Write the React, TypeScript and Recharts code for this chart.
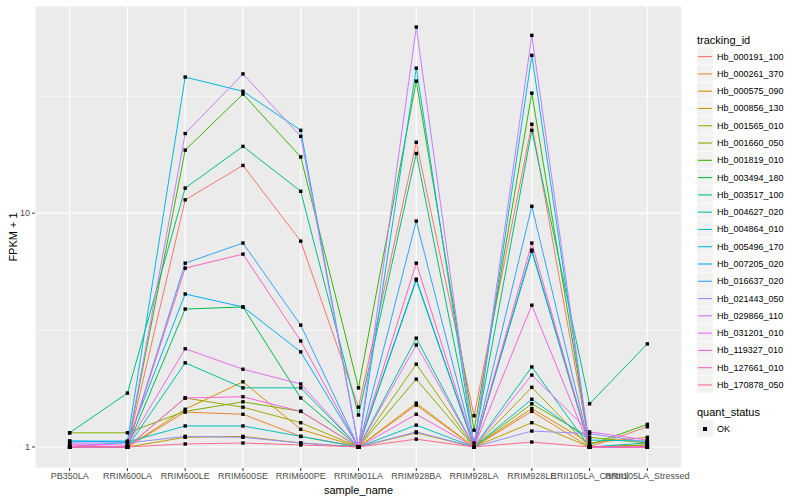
import { LineChart, Line, XAxis, YAxis, CartesianGrid, ReferenceLine, Label } from "recharts";

const sampleNames = [
  "PB350LA",
  "RRIM600LA",
  "RRIM600LE",
  "RRIM600SE",
  "RRIM600PE",
  "RRIM901LA",
  "RRIM928BA",
  "RRIM928LA",
  "RRIM928LE",
  "RRII105LA_Control",
  "RRII105LA_Stressed",
];

const trackingIds = [
  "Hb_000191_100",
  "Hb_000261_370",
  "Hb_000575_090",
  "Hb_000856_130",
  "Hb_001565_010",
  "Hb_001660_050",
  "Hb_001819_010",
  "Hb_003494_180",
  "Hb_003517_100",
  "Hb_004627_020",
  "Hb_004864_010",
  "Hb_005496_170",
  "Hb_007205_020",
  "Hb_016637_020",
  "Hb_021443_050",
  "Hb_029866_110",
  "Hb_031201_010",
  "Hb_119327_010",
  "Hb_127661_010",
  "Hb_170878_050",
];

const trackingColors = [
  "#F8766D", "#EA8331", "#D89000", "#C09B00", "#A3A500",
  "#7CAE00", "#39B600", "#00BB4E", "#00BF7D", "#00C1A3",
  "#00BFC4", "#00BAE0", "#00B0F6", "#35A2FF", "#9590FF",
  "#C77CFF", "#E76BF3", "#FA62DB", "#FF62BC", "#FF6C91",
];

// FPKM + 1, one value per sample_name
const hb_000191_100 = [1.0, 1.0, 11.4, 16.0, 7.59, 1.48, 20.1, 1.36, 24.0, 1.0, 1.22];
const hb_000261_370 = [1.0, 1.0, 1.41, 1.38, 1.11, 1.0, 1.51, 1.0, 1.42, 1.0, 1.02];
const hb_000575_090 = [1.0, 1.0, 1.45, 1.9, 1.19, 1.0, 1.54, 1.0, 1.46, 1.04, 1.1];
const hb_000856_130 = [1.0, 1.0, 1.1, 1.11, 1.04, 1.0, 1.15, 1.0, 1.27, 1.0, 1.0];
const hb_001565_010 = [1.0, 1.0, 1.62, 1.48, 1.27, 1.0, 2.26, 1.0, 1.8, 1.0, 1.02];
const hb_001660_050 = [1.15, 1.15, 1.42, 1.56, 1.42, 1.0, 1.95, 1.0, 1.53, 1.1, 1.04];
const hb_001819_010 = [1.0, 1.0, 18.6, 32.3, 17.4, 1.79, 36.7, 1.18, 32.6, 1.02, 1.25];
const hb_003494_180 = [1.0, 1.0, 3.89, 3.97, 1.62, 1.0, 5.17, 1.0, 6.88, 1.0, 1.0];
const hb_003517_100 = [1.15, 1.7, 12.8, 19.3, 12.4, 1.37, 18.0, 1.04, 22.6, 1.53, 2.76];
const hb_004627_020 = [1.0, 1.0, 2.29, 1.79, 1.79, 1.0, 2.92, 1.0, 2.2, 1.0, 1.04];
const hb_004864_010 = [1.0, 1.05, 1.23, 1.23, 1.11, 1.0, 1.24, 1.0, 1.6, 1.07, 1.06];
const hb_005496_170 = [1.06, 1.06, 38.2, 33.2, 22.6, 1.0, 41.7, 1.0, 47.3, 1.0, 1.0];
const hb_007205_020 = [1.06, 1.05, 4.51, 3.97, 2.55, 1.0, 5.22, 1.0, 6.95, 1.0, 1.0];
const hb_016637_020 = [1.0, 1.0, 6.11, 7.45, 3.32, 1.0, 9.25, 1.0, 10.7, 1.0, 1.0];
const hb_021443_050 = [1.04, 1.04, 1.11, 1.1, 1.04, 1.0, 1.16, 1.0, 1.17, 1.14, 1.05];
const hb_029866_110 = [1.0, 1.0, 21.9, 39.4, 21.3, 1.0, 62.5, 1.0, 57.6, 1.0, 1.0];
const hb_031201_010 = [1.03, 1.02, 2.63, 2.15, 1.86, 1.0, 2.73, 1.0, 2.03, 1.16, 1.07];
const hb_119327_010 = [1.02, 1.0, 1.62, 1.64, 1.42, 1.0, 1.38, 1.0, 4.04, 1.0, 1.0];
const hb_127661_010 = [1.0, 1.0, 5.82, 6.68, 2.84, 1.0, 6.11, 1.0, 7.45, 1.0, 1.0];
const hb_170878_050 = [1.0, 1.0, 1.03, 1.04, 1.02, 1.0, 1.08, 1.0, 1.05, 1.0, 1.0];

const seriesValues = [
  hb_000191_100, hb_000261_370, hb_000575_090, hb_000856_130, hb_001565_010,
  hb_001660_050, hb_001819_010, hb_003494_180, hb_003517_100, hb_004627_020,
  hb_004864_010, hb_005496_170, hb_007205_020, hb_016637_020, hb_021443_050,
  hb_029866_110, hb_031201_010, hb_119327_010, hb_127661_010, hb_170878_050,
];

const yTicks = [1, 10];
const yMinor = [3.162, 31.62];
const xTicks = sampleNames.map((_, i) => i + 1);

const data = sampleNames.map((name, i) => {
  const row: Record<string, number | string> = { x: i + 1, sample_name: name };
  trackingIds.forEach((id, k) => {
    row[id] = seriesValues[k][i];
  });
  return row;
});

const FONT = "'Liberation Sans', Arial, Helvetica, sans-serif";

const SquareDot = (props: any) => {
  const { cx, cy, index, dataKey } = props;
  if (cx == null || cy == null) return null;
  return (
    <rect key={`${dataKey}-${index}`} x={cx - 1.7} y={cy - 1.7} width={3.4} height={3.4} fill="#000" />
  );
};

const KEY_H = 17.28;

function LegendBox() {
  const top = 48;
  const quantTitleY = 412;
  const okTop = 429 - KEY_H / 2;
  return (
    <svg
      width={110}
      height={460}
      style={{ position: "absolute", left: 690, top: 0, fontFamily: FONT }}
    >
      <text x={7} y={40} fontSize={11} dominantBaseline="central" fill="#000">
        tracking_id
      </text>
      {trackingIds.map((id, k) => {
        const y = top + k * KEY_H;
        return (
          <g key={id}>
            <rect x={7} y={y} width={16} height={KEY_H - 0.8} fill="#F2F2F2" />
            <line
              x1={8}
              x2={22}
              y1={y + KEY_H / 2}
              y2={y + KEY_H / 2}
              stroke={trackingColors[k]}
              strokeWidth={1.1}
            />
            <text x={27} y={y + KEY_H / 2} fontSize={9} dominantBaseline="central" fill="#000">
              {id}
            </text>
          </g>
        );
      })}
      <text x={7} y={quantTitleY} fontSize={11} dominantBaseline="central" fill="#000">
        quant_status
      </text>
      <rect x={7} y={okTop} width={16} height={KEY_H - 0.8} fill="#F2F2F2" />
      <rect x={13} y={okTop + KEY_H / 2 - 2} width={4} height={4} fill="#000" />
      <text x={27} y={okTop + KEY_H / 2} fontSize={9} dominantBaseline="central" fill="#000">
        OK
      </text>
    </svg>
  );
}

export default function App() {
  return (
    <div style={{ position: "absolute", left: 0, top: 0, width: 800, height: 500, background: "#fff" }}>
      <LineChart
        width={800}
        height={500}
        data={data}
        margin={{ top: 6, right: 118, bottom: 0, left: 0 }}
        style={{ fontFamily: FONT }}
      >
        <CartesianGrid fill="#EBEBEB" stroke="#FFFFFF" strokeWidth={1.2} />
        {yMinor.map((v) => (
          <ReferenceLine key={v} y={v} stroke="#FFFFFF" strokeWidth={0.6} />
        ))}
        <XAxis
          dataKey="x"
          type="number"
          domain={[0.4, 11.6]}
          ticks={xTicks}
          interval={0}
          tickFormatter={(v: number) => sampleNames[v - 1] ?? ""}
          height={32}
          axisLine={false}
          tickSize={3}
          tickLine={{ stroke: "#333333" }}
          tick={{ fontSize: 9, fill: "#4D4D4D" }}
          tickMargin={2}
        >
          <Label
            content={() => (
              <text x={358.5} y={494} textAnchor="middle" fontSize={11} fill="#000" fontFamily={FONT}>
                sample_name
              </text>
            )}
          />
        </XAxis>
        <YAxis
          type="number"
          scale="log"
          domain={[0.813, 76.9]}
          allowDataOverflow
          ticks={yTicks}
          width={35}
          axisLine={false}
          tickSize={3}
          tickLine={{ stroke: "#333333" }}
          tick={{ fontSize: 9, fill: "#4D4D4D" }}
          tickMargin={2}
        >
          <Label
            content={() => (
              <text
                x={13}
                y={237}
                transform="rotate(-90 13 237)"
                textAnchor="middle"
                dominantBaseline="central"
                fontSize={11}
                fill="#000"
                fontFamily={FONT}
              >
                FPKM + 1
              </text>
            )}
          />
        </YAxis>
        {trackingIds.map((id, k) => (
          <Line
            key={id}
            dataKey={id}
            stroke={trackingColors[k]}
            strokeWidth={1}
            dot={false}
            activeDot={false}
            isAnimationActive={false}
            type="linear"
          />
        ))}
        {trackingIds.map((id) => (
          <Line
            key={`pts-${id}`}
            dataKey={id}
            stroke="none"
            dot={SquareDot}
            activeDot={false}
            isAnimationActive={false}
            legendType="none"
          />
        ))}
      </LineChart>
      <LegendBox />
    </div>
  );
}
